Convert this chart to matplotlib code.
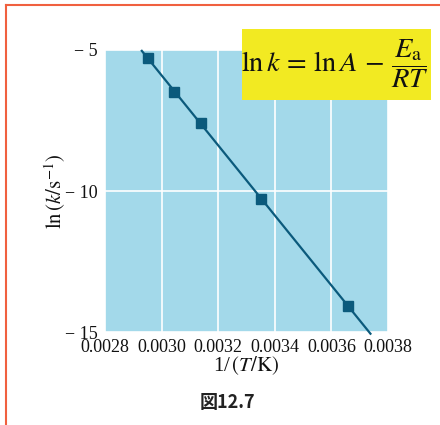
import numpy as np
import matplotlib
matplotlib.use("Agg")
import matplotlib.pyplot as plt
from matplotlib.lines import Line2D

# Data
inv_T = [0.002952, 0.003044, 0.003139, 0.003351, 0.003659]
ln_k = [-5.28, -6.49, -7.59, -10.28, -14.07]
fit_range = [0.00293, 0.003738]
x_ticks = [0.0028, 0.0030, 0.0032, 0.0034, 0.0036, 0.0038]
x_tick_labels = ["0.0028", "0.0030", "0.0032", "0.0034", "0.0036", "0.0038"]
y_ticks = [-15, -10, -5]
y_tick_labels = ["\u2212 15", "\u2212 10", "\u2212 5"]

W, H = 440, 425
fig = plt.figure(figsize=(W / 100, H / 100), dpi=100)
fig.patch.set_facecolor("white")

def fx(px):
    return px / W

def fy(py):
    return 1 - py / H

ax = fig.add_axes([fx(105), fy(332), fx(388) - fx(105), fy(50) - fy(332)])
ax.set_facecolor("#a3d9ea")
for s in ax.spines.values():
    s.set_visible(False)
ax.set_xlim(0.0028, 0.0038)
ax.set_ylim(-15, -5)
ax.set_xticks(x_ticks)
ax.set_xticklabels(x_tick_labels)
ax.set_yticks(y_ticks)
ax.set_yticklabels(y_tick_labels)
ax.tick_params(length=0, labelsize=13)
for lab in ax.get_xticklabels() + ax.get_yticklabels():
    lab.set_family("Liberation Serif")
    lab.set_color("#111111")
ax.tick_params(axis="y", pad=5)
ax.tick_params(axis="x", pad=5)
ax.grid(True, color="white", linewidth=1.2)
ax.set_axisbelow(True)

# fitted line
coef = np.polyfit(inv_T, ln_k, 1)
xs = np.array(fit_range)
ax.plot(xs, np.polyval(coef, xs), color="#0b5a7c", linewidth=1.6, clip_on=False, zorder=3)
ax.plot(inv_T, ln_k, linestyle="none", marker="s", markersize=7.5,
        color="#0b5a7c", zorder=4, clip_on=False)

ax.set_xlabel(r"1/$\,(T/\mathrm{K})$", fontsize=15, family="Liberation Serif",
              math_fontfamily="stix", labelpad=-1, color="#111111")
ax.set_ylabel(r"$\mathrm{ln}\,(k/\mathrm{s}^{-1})$", fontsize=15,
              math_fontfamily="stix", labelpad=-2, color="#111111")

# equation box
fig.patches.append(plt.Rectangle((fx(242), fy(100)), fx(431) - fx(242), fy(29) - fy(100),
                                 transform=fig.transFigure, facecolor="#f2ea22",
                                 edgecolor="none", zorder=5))
fig.text(fx(335), fy(64), r"$\mathrm{ln}\,k\,=\,\mathrm{ln}\,A\,-\,\dfrac{E_\mathrm{a}}{RT}$",
         fontsize=20.5, math_fontfamily="stix", ha="center", va="center",
         color="#111111", zorder=6)

# caption
fig.text(fx(227), fy(402), "図12.7", fontsize=13, fontweight="bold",
         family=["Noto Sans CJK JP", "DejaVu Sans"], ha="center", va="center",
         color="#222222")

# red frame (top and left only)
red = "#f0603f"
fig.add_artist(Line2D([fx(6), fx(6)], [fy(5), 0], transform=fig.transFigure,
                      color=red, linewidth=1.5))
fig.add_artist(Line2D([fx(6), 1], [fy(5), fy(5)], transform=fig.transFigure,
                      color=red, linewidth=1.5))

fig.savefig("out.png", dpi=100)
